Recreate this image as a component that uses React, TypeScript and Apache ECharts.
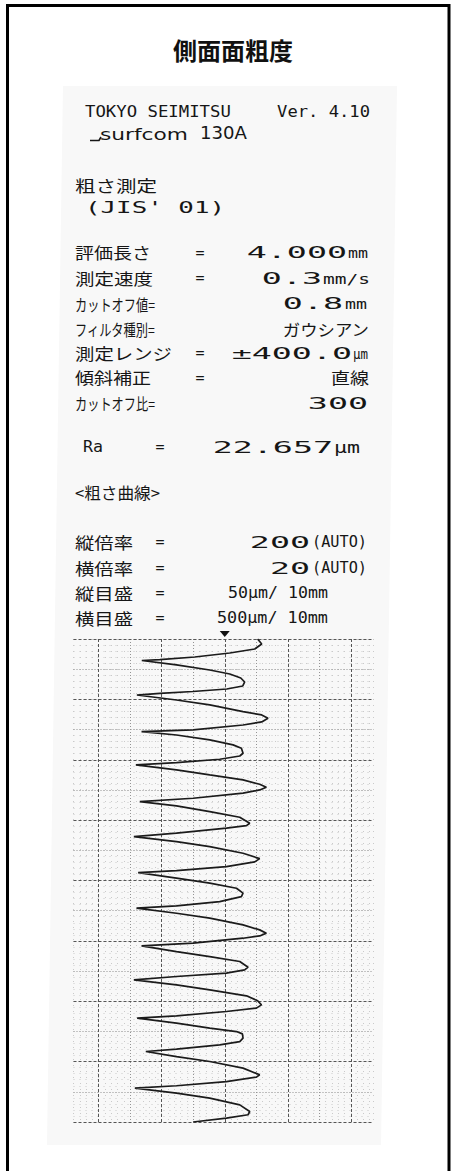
import React, { useEffect, useRef } from "react";
import * as echarts from "echarts";

// ---------- texts of the printout ----------
const chartTitle = "側面面粗度";
const makerName = "TOKYO SEIMITSU";
const versionText = "Ver. 4.10";
const modelName = "surfcom";
const modelNumber = "130A";
const measureName = "粗さ測定";
const standardName = "(JIS' 01)";

const conditionLabels = ["評価長さ", "測定速度", "カットオフ値=", "フィルタ種別=", "測定レンジ", "傾斜補正", "カットオフ比="];
const conditionEquals = ["=", "=", "", "", "=", "=", ""];
const conditionValues = ["4.000", "0.3", "0.8", "", "±400.0", "", "300"];
const conditionWords = ["", "", "", "ガウシアン", "", "直線", ""];
const conditionUnits = ["mm", "mm/s", "mm", "", "µm", "", ""];

const resultLabel = "Ra";
const resultValue = "22.657";
const resultUnit = "µm";

const curveTitle = "<粗さ曲線>";
const scaleLabels = ["縦倍率", "横倍率", "縦目盛", "横目盛"];
const scaleValues = ["200", "20", "", ""];
const scaleTexts = ["", "", "50µm/ 10mm", "500µm/ 10mm"];
const scaleUnits = ["(AUTO)", "(AUTO)", "", ""];

// ---------- roughness profile (µm) ----------
// height across the trace (horizontal axis), position along the 4 mm evaluation length (vertical axis)
const profileHeight = [
  26.1, 29.3, 23.8, 4.0, -23.8, -51.5, -65.8,
  -38.3, -11.9, 4.0, 12.7, 15.8, 14.3, 1.6, -25.4, -51.5, -69.7,
  -38.3, -11.9, 14.5, 29.3, 34.3, 29.3, 14.5, -25.1, -66.0,
  -38.3, -11.9, 6.6, 13.2, 14.5, 11.9, -4.0, -38.3, -70.5,
  -38.3, -11.9, 14.5, 27.7, 33.0, 27.7, 14.5, -25.1, -67.4,
  -38.3, -11.9, 11.9, 19.8, 17.2, 1.3, -38.3, -72.1,
  -38.3, -11.9, 14.5, 27.7, 23.8, 1.3, -38.3, -68.7,
  -38.3, -11.9, 9.3, 14.5, 13.2, -4.0, -38.3, -70.0,
  -38.3, -11.9, 14.5, 27.7, 33.0, 27.7, 14.5, -25.1, -66.0,
  -38.3, -11.9, 11.9, 18.5, 15.8, 1.3, -38.3, -72.1,
  -38.3, -11.9, 17.2, 26.1, 29.1, 25.1, 1.3, -38.3, -69.5,
  -38.3, -11.9, 9.3, 14.0, 14.5, 11.9, -4.0, -38.3, -62.6,
  -38.3, -11.9, 14.5, 27.7, 25.1, 1.3, -38.3, -71.3,
  -38.3, -11.9, 11.9, 19.8, 18.5, 1.3, -25.1,
];
const profilePosition = [
  0, 41, 83, 116, 149, 170, 178,
  215, 257, 290, 323, 356, 389, 414, 435, 451, 464,
  505, 546, 602, 629, 656, 687, 712, 753, 767,
  795, 836, 877, 905, 946, 969, 996, 1024, 1043,
  1084, 1126, 1167, 1203, 1228, 1250, 1277, 1319, 1347,
  1382, 1430, 1476, 1526, 1546, 1567, 1608, 1637,
  1678, 1719, 1774, 1819, 1846, 1885, 1918, 1935,
  1981, 2022, 2064, 2105, 2133, 2175, 2210, 2229,
  2271, 2312, 2368, 2409, 2436, 2459, 2478, 2519, 2541,
  2589, 2630, 2671, 2718, 2740, 2767, 2795, 2823,
  2864, 2906, 2955, 2996, 3030, 3057, 3085, 3121, 3140,
  3181, 3223, 3251, 3270, 3305, 3334, 3361, 3397, 3416,
  3458, 3499, 3554, 3609, 3628, 3665, 3700, 3719,
  3761, 3802, 3858, 3913, 3940, 3968, 4000,
];

// ---------- scales / ticks ----------
const heightRange = [-120, 118];
const positionRange = [0, 4000];
const minorHeightStep = 5;
const minorPositionStep = 50;
const majorHeightTicks = [-100, -50, 0, 50, 100];
const halfHeightTicks = [-75, -25, 25, 75];
const majorPositionTicks = [0, 500, 1000, 1500, 2000, 2500, 3000, 3500, 4000];
const halfPositionTicks = [250, 750, 1250, 1750, 2250, 2750, 3250, 3750];
const originMark = [0, 0];

const CJK = '"Noto Sans CJK JP"';
const SANS = '"DejaVu Sans"';
const MONO = '"DejaVu Sans Mono"';
const INK = "#161616";

export default function App() {
  const ref = useRef<HTMLDivElement>(null);

  useEffect(() => {
    const el = ref.current;
    if (!el) return;
    const chart = echarts.init(el, null, { renderer: "svg" });

    const cv = document.createElement("canvas");
    const ctx = cv.getContext("2d") as CanvasRenderingContext2D;
    const measure = (text: string, size: number, family: string, weight: string) => {
      ctx.font = `${weight} ${size}px ${family}`;
      return ctx.measureText(text).width || 1;
    };

    type T = {
      text: string; x: number; y: number; size: number; family: string;
      width?: number; sx?: number; align?: string; weight?: string;
    };
    const txt = (t: T) => {
      const weight = t.weight || "normal";
      const sx = t.sx ? t.sx : t.width ? t.width / measure(t.text, t.size, t.family, weight) : 1;
      return {
        type: "text",
        x: t.x,
        y: t.y,
        scaleX: sx,
        z: 10,
        silent: true,
        style: {
          text: t.text,
          fontSize: t.size,
          fontFamily: t.family,
          fontWeight: weight,
          fill: INK,
          align: t.align || "left",
          verticalAlign: "middle",
        },
      };
    };

    const VALUE_SX = 2.15;
    const texts: any[] = [];
    const add = (t: T) => { if (t.text) texts.push(txt(t)); };

    // header
    add({ text: makerName, x: 85, y: 112, size: 16, family: MONO, width: 146 });
    add({ text: versionText, x: 370, y: 112, size: 16, family: MONO, width: 93, align: "right" });
    add({ text: modelName, x: 100, y: 134, size: 16, family: SANS, width: 88 });
    add({ text: modelNumber, x: 200, y: 133.5, size: 17, family: SANS, width: 47 });
    add({ text: measureName, x: 75, y: 185, size: 16, family: CJK, width: 82 });
    add({ text: standardName, x: 85, y: 208, size: 15, family: MONO, width: 140 });

    // measurement conditions
    const condY = [252.5, 278, 303.5, 329, 353, 377.5, 403];
    const condValueRight = [347, 322, 343, 0, 352, 0, 368];
    const condWordWidth = [0, 0, 0, 87, 0, 38, 0];
    const condUnitX = [348, 323, 345, 0, 353, 0, 0];
    const condUnitW = [20, 47, 22, 0, 15, 0, 0];
    const condLabelW = [76, 78, 80, 80, 97, 76, 80];
    conditionLabels.forEach((lab, i) => {
      const y = condY[i];
      add({ text: lab, x: 75, y, size: 16, family: CJK, width: condLabelW[i] });
      add({ text: conditionEquals[i], x: 200, y, size: 15, family: MONO, align: "center" });
      add({ text: conditionValues[i], x: condValueRight[i], y: y + 0.5, size: 15.5, family: MONO, sx: VALUE_SX, align: "right" });
      add({ text: conditionWords[i], x: 369, y, size: 16, family: CJK, width: condWordWidth[i], align: "right" });
      add({ text: conditionUnits[i], x: condUnitX[i], y: y + 1, size: 14, family: MONO, width: condUnitW[i] });
    });

    // result
    const raY = 447;
    add({ text: resultLabel, x: 83, y: raY, size: 16, family: MONO, width: 20 });
    add({ text: "=", x: 160, y: raY, size: 15, family: MONO, align: "center" });
    add({ text: resultValue, x: 333, y: raY + 0.5, size: 15.5, family: MONO, sx: VALUE_SX, align: "right" });
    add({ text: resultUnit, x: 334, y: raY + 1, size: 15, family: MONO, width: 26 });

    // curve header
    add({ text: curveTitle, x: 75, y: 492, size: 16, family: CJK, width: 85 });
    const scaleY = [542, 568, 593, 618];
    const scaleTextX = [0, 0, 228, 217];
    const scaleTextW = [0, 0, 100, 111];
    scaleLabels.forEach((lab, i) => {
      const y = scaleY[i];
      add({ text: lab, x: 75, y, size: 16, family: CJK, width: 58 });
      add({ text: "=", x: 160, y, size: 15, family: MONO, align: "center" });
      add({ text: scaleValues[i], x: 310, y: y + 0.5, size: 15.5, family: MONO, sx: VALUE_SX, align: "right" });
      add({ text: scaleUnits[i], x: 312, y, size: 15, family: MONO, width: 55 });
      add({ text: scaleTexts[i], x: scaleTextX[i], y, size: 16, family: MONO, width: scaleTextW[i] });
    });

    const majorStyle = { color: "#555555", width: 1, type: [3, 2] };
    const halfStyle = { color: "#949494", width: 1, type: [1, 2] };

    const option: any = {
      animation: false,
      backgroundColor: "#ffffff",
      title: {
        text: chartTitle,
        left: 233,
        top: 36,
        padding: 0,
        textAlign: "center",
        textStyle: { fontSize: 24, fontWeight: "bold", fontFamily: CJK, color: "#111111", lineHeight: 26 },
      },
      grid: { left: 73.5, top: 639, width: 300, height: 483 },
      xAxis: {
        type: "value",
        min: heightRange[0],
        max: heightRange[1],
        interval: minorHeightStep,
        axisLine: { show: false },
        axisTick: { show: false },
        axisLabel: { show: false },
        splitLine: { show: true, lineStyle: { color: "#cacaca", width: 1, type: [1, 5] } },
      },
      yAxis: {
        type: "value",
        inverse: true,
        min: positionRange[0],
        max: positionRange[1],
        interval: minorPositionStep,
        axisLine: { show: false },
        axisTick: { show: false },
        axisLabel: { show: false },
        splitLine: { show: true, lineStyle: { color: "#cacaca", width: 1, type: [1, 5] } },
      },
      graphic: [
        {
          type: "polygon",
          z: -5,
          silent: true,
          shape: { points: [[63, 86], [397, 86], [381, 1145], [47, 1145]] },
          style: { fill: "#f8f8f8" },
        },
        {
          type: "rect",
          z: 20,
          silent: true,
          shape: { x: 7.5, y: 5.5, width: 441.5, height: 1300 },
          style: { fill: "transparent", stroke: "#000000", lineWidth: 3 },
        },
        {
          type: "polyline",
          z: 10,
          silent: true,
          shape: { points: [[90, 140.5], [99, 140.5], [101, 137]] },
          style: { stroke: INK, lineWidth: 1.6, fill: "none" },
        },
        ...texts,
      ],
      series: [
        {
          type: "line",
          data: profileHeight.map((h, i) => [h, profilePosition[i]]),
          showSymbol: false,
          symbol: "none",
          silent: true,
          z: 5,
          lineStyle: { color: "#1b1b1b", width: 1.7 },
          markLine: {
            silent: true,
            symbol: ["none", "none"],
            label: { show: false },
            emphasis: { disabled: true },
            data: [
              ...halfHeightTicks.map((v) => ({ xAxis: v, lineStyle: halfStyle })),
              ...halfPositionTicks.map((v) => ({ yAxis: v, lineStyle: halfStyle })),
              ...majorHeightTicks.map((v) => ({ xAxis: v, lineStyle: majorStyle })),
              ...majorPositionTicks.map((v) => ({ yAxis: v, lineStyle: majorStyle })),
            ],
          },
          markPoint: {
            silent: true,
            symbol: "triangle",
            symbolSize: [10, 6],
            symbolRotate: 180,
            symbolOffset: [0, -5],
            itemStyle: { color: "#111111" },
            label: { show: false },
            data: [{ coord: originMark }],
          },
        },
      ],
    };

    chart.setOption(option);
    return () => chart.dispose();
  }, []);

  return (
    <div
      ref={ref}
      style={{ position: "absolute", left: 0, top: 0, width: 452, height: 1171, background: "#ffffff" }}
    />
  );
}
